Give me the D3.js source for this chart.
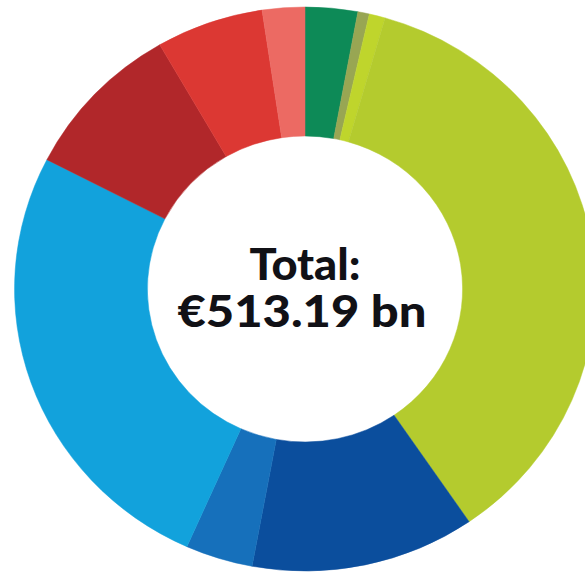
<!DOCTYPE html>
<html>
<head>
<meta charset="utf-8">
<script src="https://cdn.jsdelivr.net/npm/d3@7"></script>
<style>
  html, body { margin: 0; padding: 0; background: #ffffff; }
  svg { display: block; }
</style>
</head>
<body>
<svg id="chart" width="585" height="574"></svg>
<script>
// Spending categories (EUR bn), clockwise from twelve o'clock
const categories = [
  "Green A", "Green B", "Lime A", "Lime B",
  "Blue A", "Blue B", "Blue C",
  "Red A", "Red B", "Red C"
];
const values = [14.97, 3.28, 4.56, 184.75, 64.00, 19.24, 133.00, 46.61, 30.65, 12.13];
const colors = [
  "#0d8a57", "#98a653", "#bfd52c", "#b4cb2e",
  "#0b4e9d", "#1670bb", "#12a2dc",
  "#b1272a", "#dc3833", "#ec6a63"
];
const totalPrefix = "Total:";

const width = 585, height = 574;
const cx = 305, cy = 289;
const innerR = 153, outerR = 282;
const stretchX = 1.03;

const svg = d3.select("#chart");

const data = categories.map((c, i) => ({ category: c, value: values[i], color: colors[i] }));

const pie = d3.pie()
  .value(d => d.value)
  .sort(null)
  .startAngle(0)
  .endAngle(2 * Math.PI);

const arc = d3.arc()
  .innerRadius(innerR)
  .outerRadius(outerR);

const g = svg.append("g")
  .attr("transform", `translate(${cx},${cy}) scale(${stretchX},1)`);

g.selectAll("path")
  .data(pie(data))
  .join("path")
  .attr("d", arc)
  .attr("fill", d => d.data.color)
  .attr("stroke", d => d.data.color)
  .attr("stroke-width", 0.5);

// Centre label with the total
const total = d3.sum(values);
const label = svg.append("g")
  .attr("transform", `translate(${cx},0)`)
  .attr("font-family", "Lato, 'DejaVu Sans', sans-serif")
  .attr("font-weight", 900)
  .attr("fill", "#111116")
  .attr("text-anchor", "middle");

label.append("text")
  .attr("x", 0)
  .attr("y", 280)
  .attr("font-size", 44)
  .attr("textLength", 111)
  .attr("lengthAdjust", "spacingAndGlyphs")
  .text(totalPrefix);

label.append("text")
  .attr("x", -3)
  .attr("y", 327)
  .attr("font-size", 44)
  .attr("textLength", 249)
  .attr("lengthAdjust", "spacingAndGlyphs")
  .text(`€${d3.format(".2f")(total)} bn`);
</script>
</body>
</html>
